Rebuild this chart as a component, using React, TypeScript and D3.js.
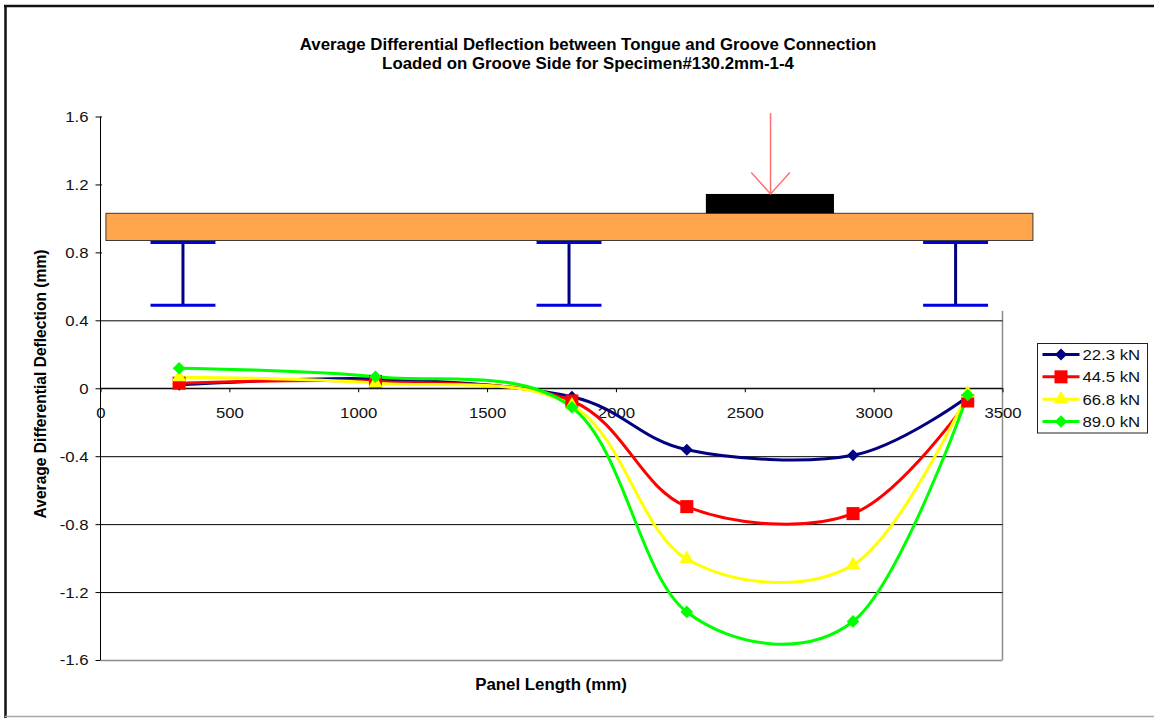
import React, { useEffect, useRef } from 'react';
import * as d3 from 'd3';

const positions = [305, 1067, 1829, 2275, 2920, 3365];
const seriesNames = ['22.3 kN', '44.5 kN', '66.8 kN', '89.0 kN'];
const seriesColors = ['#000080', '#ff0000', '#ffff00', '#00ff00'];
const load22 = [0.02, 0.055, -0.05, -0.362, -0.395, -0.05];
const load44 = [0.03, 0.04, -0.075, -0.697, -0.738, -0.075];
const load66 = [0.065, 0.03, -0.1, -1.005, -1.04, -0.03];
const load89 = [0.118, 0.068, -0.112, -1.317, -1.373, -0.04];
const seriesValues = [load22, load44, load66, load89];

const xTicks = [0, 500, 1000, 1500, 2000, 2500, 3000, 3500];
const yTicks = [1.6, 1.2, 0.8, 0.4, 0, -0.4, -0.8, -1.2, -1.6];
const yTickLabels = ['1.6', '1.2', '0.8', '0.4', '0', '-0.4', '-0.8', '-1.2', '-1.6'];
const titleLines = [
  'Average Differential Deflection between Tongue and Groove Connection',
  'Loaded on Groove Side for Specimen#130.2mm-1-4',
];

// schematic of the test setup, in chart units
const supports = [320, 1818, 3318];
const beamSpan = [21, 3618];
const beamDepth = [0.87, 1.03];
const padSpan = [2349, 2846];
const padTop = 1.144;
const loadAt = 2600;

const FONT = '"Liberation Sans", Arial, sans-serif';

// the picture is a little wider than tall, so text gets stretched sideways
function stretch(sel: any, k = 1.08) {
  sel.each(function (this: SVGTextElement) {
    const len = this.getComputedTextLength();
    this.setAttribute('textLength', String(len * k));
    this.setAttribute('lengthAdjust', 'spacingAndGlyphs');
  });
}

export default function App() {
  const svgRef = useRef<SVGSVGElement | null>(null);

  useEffect(() => {
    if (!svgRef.current) return;
    const svg = d3.select(svgRef.current);
    svg.selectAll('*').remove();

    const width = 1154;
    const height = 718;
    const margin = { top: 116.5, right: 151.5, bottom: 58, left: 100.5 };

    const x = d3.scaleLinear().domain([0, 3500]).range([margin.left, width - margin.right]);
    const y = d3.scaleLinear().domain([-1.6, 1.6]).range([height - margin.bottom, margin.top]);

    // page frame
    svg.append('rect').attr('width', width).attr('height', height).attr('fill', '#ffffff');
    svg.append('line').attr('x1', 4).attr('x2', width).attr('y1', 6).attr('y2', 6)
      .attr('stroke', '#111111').attr('stroke-width', 2.5);
    svg.append('line').attr('x1', 5.5).attr('x2', 5.5).attr('y1', 5).attr('y2', height)
      .attr('stroke', '#111111').attr('stroke-width', 2.5);
    svg.append('line').attr('x1', 5).attr('x2', width).attr('y1', 716.5).attr('y2', 716.5)
      .attr('stroke', '#a6a6a6').attr('stroke-width', 1.5);

    // plot border
    svg.append('line').attr('x1', x(3500)).attr('x2', x(3500)).attr('y1', y(1.6)).attr('y2', y(-1.6))
      .attr('stroke', '#8c8c8c').attr('stroke-width', 1.5);

    // y axis with gridlines
    const plotW = x(3500) - x(0);
    const gridG = svg.append('g').attr('transform', `translate(${x(0)},0)`);
    gridG.call(
      d3.axisLeft(y).tickValues(yTicks).tickSize(-plotW).tickPadding(12)
        .tickFormat((_, i) => yTickLabels[i])
    );
    gridG.select('.domain').remove();
    gridG.selectAll('.tick line').attr('stroke', '#000000').attr('stroke-width', 1);
    gridG.selectAll('.tick').filter((d) => d === -1.6).select('line').attr('stroke', '#8c8c8c').attr('stroke-width', 1.5);
    gridG.selectAll('.tick').append('line').attr('x1', -5).attr('x2', 0).attr('stroke', '#000000');
    gridG.selectAll('text').attr('fill', '#111111').style('font-family', FONT).style('font-size', '15.5px');
    stretch(gridG.selectAll('text'));

    // white panel of the schematic hides the upper gridlines
    svg.append('rect')
      .attr('x', x(0) + 1.5).attr('y', 100)
      .attr('width', x(beamSpan[1]) - x(0) + 4).attr('height', y(0.4) - 9.5 - 100)
      .attr('fill', '#ffffff');

    // vertical axis line
    svg.append('line').attr('x1', x(0)).attr('x2', x(0)).attr('y1', y(1.6)).attr('y2', y(-1.6))
      .attr('stroke', '#000000').attr('stroke-width', 1);

    // x axis on the zero line
    const xG = svg.append('g').attr('transform', `translate(0,${y(0)})`);
    xG.call(d3.axisBottom(x).tickValues(xTicks).tickSize(4).tickPadding(15).tickFormat((d) => String(d)));
    xG.select('.domain').attr('stroke', '#000000').attr('d', `M${x(0)},0H${x(3500)}`);
    xG.selectAll('.tick line').attr('stroke', '#000000');
    xG.selectAll('text').attr('fill', '#111111').style('font-family', FONT).style('font-size', '15.5px');
    stretch(xG.selectAll('text'));

    // steel supports
    const steel = svg.append('g').attr('stroke', '#0000e0').attr('fill', 'none');
    supports.forEach((s) => {
      steel.append('line').attr('x1', x(s)).attr('x2', x(s)).attr('y1', y(0.86)).attr('y2', y(0.488))
        .attr('stroke', '#000080').attr('stroke-width', 3);
      [0.858, 0.488].forEach((f) => {
        steel.append('line').attr('x1', x(s - 126)).attr('x2', x(s + 126)).attr('y1', y(f)).attr('y2', y(f))
          .attr('stroke-width', 3);
      });
    });

    // panel and loading pad
    svg.append('rect')
      .attr('x', x(beamSpan[0])).attr('y', y(beamDepth[1]))
      .attr('width', x(beamSpan[1]) - x(beamSpan[0])).attr('height', y(beamDepth[0]) - y(beamDepth[1]))
      .attr('fill', '#ffa64d').attr('stroke', '#3a3a3a').attr('stroke-width', 1);
    svg.append('rect')
      .attr('x', x(padSpan[0])).attr('y', y(padTop))
      .attr('width', x(padSpan[1]) - x(padSpan[0])).attr('height', y(beamDepth[1]) - y(padTop))
      .attr('fill', '#000000');

    // load arrow
    const arrow = d3.line<[number, number]>().x((d) => x(d[0])).y((d) => y(d[1]));
    const arrowG = svg.append('g').attr('fill', 'none').attr('stroke', '#ff7070').attr('stroke-width', 1.5);
    arrowG.append('path').attr('d', arrow([[loadAt, 1.62], [loadAt, padTop]]));
    arrowG.append('path').attr('d', arrow([[loadAt - 75, 1.27], [loadAt, padTop], [loadAt + 75, 1.27]]));

    // series, smoothed the way the spreadsheet does it
    const curve = d3.line<number>()
      .x((_, i) => x(positions[i]))
      .y((d) => y(d))
      .curve(d3.curveCatmullRom.alpha(0));
    const symbols = [
      { type: d3.symbolSquare, size: 72, rotate: 45 },
      { type: d3.symbolSquare, size: 170, rotate: 0 },
      { type: d3.symbolTriangle, size: 90, rotate: 0 },
      { type: d3.symbolSquare, size: 80, rotate: 45 },
    ];

    seriesValues.forEach((vals, s) => {
      svg.append('path').attr('d', curve(vals))
        .attr('fill', 'none').attr('stroke', seriesColors[s]).attr('stroke-width', 3);
    });
    seriesValues.forEach((vals, s) => {
      const sym = d3.symbol().type(symbols[s].type).size(symbols[s].size);
      svg.append('g').selectAll('path').data(vals).enter().append('path')
        .attr('d', sym)
        .attr('fill', seriesColors[s])
        .attr('transform', (d, i) => `translate(${x(positions[i])},${y(d)}) rotate(${symbols[s].rotate})`);
    });

    // legend
    const legend = svg.append('g').attr('transform', 'translate(1037.5,343.5)');
    legend.append('rect').attr('width', 110).attr('height', 89.5)
      .attr('fill', '#ffffff').attr('stroke', '#222222').attr('stroke-width', 1);
    const rowY = d3.scalePoint<string>().domain(seriesNames).range([11, 78]);
    seriesNames.forEach((name, s) => {
      const ry = rowY(name) as number;
      legend.append('line').attr('x1', 5).attr('x2', 42).attr('y1', ry).attr('y2', ry)
        .attr('stroke', seriesColors[s]).attr('stroke-width', 3);
      legend.append('path')
        .attr('d', d3.symbol().type(symbols[s].type).size(symbols[s].size)())
        .attr('fill', seriesColors[s])
        .attr('transform', `translate(23.5,${ry}) rotate(${symbols[s].rotate})`);
      const label = legend.append('text').attr('x', 45).attr('y', ry + 5.5)
        .attr('fill', '#111111')
        .style('font-family', FONT).style('font-size', '15.5px')
        .text(name);
      stretch(label);
    });

    // titles
    titleLines.forEach((line, i) => {
      const t = svg.append('text')
        .attr('x', 588).attr('y', 49.5 + i * 19.5)
        .attr('text-anchor', 'middle').attr('fill', '#000000')
        .style('font-family', FONT).style('font-weight', 'bold').style('font-size', '15.6px')
        .text(line);
      stretch(t, 1.08);
    });
    const xTitle = svg.append('text')
      .attr('x', 551).attr('y', 690)
      .attr('text-anchor', 'middle').attr('fill', '#000000')
      .style('font-family', FONT).style('font-weight', 'bold').style('font-size', '15.6px')
      .text('Panel Length (mm)');
    stretch(xTitle, 1.08);
    const yTitle = svg.append('text')
      .attr('transform', 'translate(45.5,384) rotate(-90)')
      .attr('text-anchor', 'middle').attr('fill', '#000000')
      .style('font-family', FONT).style('font-weight', 'bold').style('font-size', '15.6px')
      .text('Average Differential Deflection (mm)');
    stretch(yTitle, 1);
  }, []);

  return <svg ref={svgRef} width={1154} height={718} style={{ position: 'absolute', left: 0, top: 0 }} />;
}
